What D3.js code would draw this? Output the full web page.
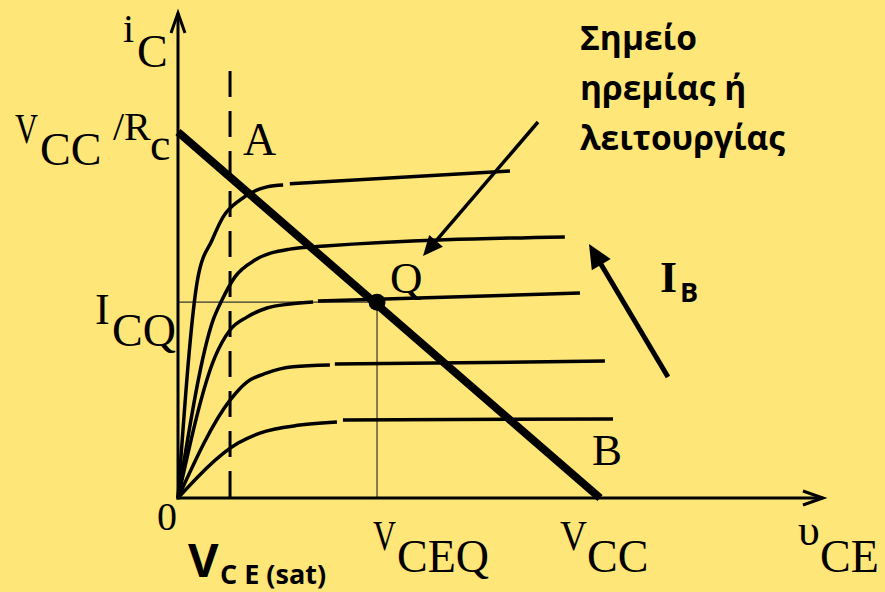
<!DOCTYPE html>
<html><head><meta charset="utf-8">
<script src="https://cdn.jsdelivr.net/npm/d3@7"></script>
<style>
html,body{margin:0;padding:0;background:#FFE678;}
svg{display:block;}
</style></head>
<body>
<script>
// ---- data (x: υCE in V, y: iC in mA) ----
const VCC = 12;
const ICmax = 12;           // VCC/Rc
const VCEsat = 1.48;
const Qpoint = [5.66, 6.42];
const xAxisMax = 18.34, yAxisMax = 15.9;

// output characteristic curves (null = small break in the drawn curve)
const curveIB5 = [[0,0],[0.57,7.25],[0.97,8.46],[1.28,9.21],[1.76,9.77],[2.53,10.20],[2.99,10.26],null,[3.18,10.30],[9.44,10.72]];
const curveIB4 = [[0,0],[1.00,5.84],[1.25,6.49],[1.62,7.25],[2.19,7.80],[3.18,8.16],[4.18,8.26],[11.00,8.56]];
const curveIB3 = [[0,0],[1.05,4.62],[1.48,5.51],[1.96,5.93],[2.53,6.23],[3.18,6.36],[3.84,6.43],null,[3.98,6.46],[11.43,6.72]];
const curveIB2 = [[0,0],[1.48,3.21],[1.96,3.80],[2.53,4.10],[3.27,4.30],[4.32,4.36],null,[4.46,4.39],[12.14,4.49]];
const curveIB1 = [[0,0],[1.71,1.80],[2.33,2.13],[3.47,2.39],[4.52,2.49],null,[4.69,2.56],[12.37,2.59]];
const curves = [curveIB5, curveIB4, curveIB3, curveIB2, curveIB1];
const loadLine = [[0, ICmax],[VCC, 0]];

const noteLines = ["Σημείο", "ηρεμίας ή", "λειτουργίας"];

// ---- drawing ----
const W = 885, H = 592;
const svg = d3.select("body").append("svg").attr("width", W).attr("height", H);
svg.append("rect").attr("width", W).attr("height", H).attr("fill", "#FFE678");

const x = d3.scaleLinear().domain([0, VCC]).range([178, 600]);
const y = d3.scaleLinear().domain([0, ICmax]).range([498, 132]);

const serif = "'Liberation Serif', 'Times New Roman', serif";
const sans = "'Open Sans', 'Noto Sans', sans-serif";

// thin Q guide lines
svg.append("line").attr("x1", x(0)).attr("x2", x(Qpoint[0])).attr("y1", y(Qpoint[1])).attr("y2", y(Qpoint[1]))
  .attr("stroke", "#333").attr("stroke-width", 1.2);
svg.append("line").attr("x1", x(Qpoint[0])).attr("x2", x(Qpoint[0])).attr("y1", y(Qpoint[1])).attr("y2", y(0))
  .attr("stroke", "#333").attr("stroke-width", 1.2);

// axes
svg.append("line").attr("x1", x(0)).attr("x2", x(0)).attr("y1", y(0)+1.5).attr("y2", y(yAxisMax))
  .attr("stroke", "#000").attr("stroke-width", 3);
svg.append("line").attr("x1", x(0)-1.5).attr("x2", x(xAxisMax)).attr("y1", y(0)).attr("y2", y(0))
  .attr("stroke", "#000").attr("stroke-width", 3);
const yt = [x(0), y(yAxisMax)], xt = [x(xAxisMax), y(0)];
svg.append("path").attr("d", `M${yt[0]-7},${yt[1]+20}L${yt[0]},${yt[1]}L${yt[0]+7},${yt[1]+20}`)
  .attr("fill", "none").attr("stroke", "#000").attr("stroke-width", 3);
svg.append("path").attr("d", `M${xt[0]-20},${xt[1]-7}L${xt[0]},${xt[1]}L${xt[0]-20},${xt[1]+7}`)
  .attr("fill", "none").attr("stroke", "#000").attr("stroke-width", 3);

// VCE(sat) dashed line
svg.append("line").attr("x1", x(VCEsat)).attr("x2", x(VCEsat)).attr("y1", y(14)).attr("y2", y(0))
  .attr("stroke", "#000").attr("stroke-width", 3).attr("stroke-dasharray", "26,14");

// curves
const line = d3.line().defined(d => d !== null).x(d => x(d[0])).y(d => y(d[1])).curve(d3.curveMonotoneX);
svg.selectAll("path.curve").data(curves).enter().append("path").attr("class", "curve")
  .attr("d", line).attr("fill", "none").attr("stroke", "#000").attr("stroke-width", 3.5).attr("stroke-linejoin", "round");

// load line
svg.append("path").attr("d", d3.line().x(d => x(d[0])).y(d => y(d[1]))(loadLine))
  .attr("fill", "none").attr("stroke", "#000").attr("stroke-width", 8);

// Q point
svg.append("circle").attr("cx", x(Qpoint[0])).attr("cy", y(Qpoint[1])).attr("r", 8.5).attr("fill", "#000");

// arrows
function arrow(x1, y1, x2, y2, w, hl, hw) {
  const a = Math.atan2(y2 - y1, x2 - x1);
  const bx = x2 - hl * Math.cos(a), by = y2 - hl * Math.sin(a);
  svg.append("line").attr("x1", x1).attr("y1", y1).attr("x2", bx + 2*Math.cos(a)).attr("y2", by + 2*Math.sin(a))
    .attr("stroke", "#000").attr("stroke-width", w);
  const px = -Math.sin(a) * hw, py = Math.cos(a) * hw;
  svg.append("path").attr("d", `M${x2},${y2}L${bx+px},${by+py}L${bx-px},${by-py}Z`).attr("fill", "#000");
}
arrow(538, 122, 423, 256, 3.5, 20, 9);
arrow(668, 377, 589, 244, 5, 24, 11);

// text helpers
function txt(s, tx, ty, size, family, weight) {
  return svg.append("text").attr("x", tx).attr("y", ty).attr("font-size", size)
    .attr("font-family", family).attr("font-weight", weight || "normal").attr("fill", "#000").text(s);
}
// main letter + subscript in one text element
function sub(main, s, tx, ty, size, sx, sdy, ssize, family, weight, mainFamily, mainLen) {
  const t = svg.append("text").attr("x", tx).attr("y", ty).attr("fill", "#000")
    .attr("font-family", family).attr("font-weight", weight || "normal").attr("xml:space", "preserve");
  const m = t.append("tspan").attr("font-size", size).attr("font-family", mainFamily || family).text(main);
  if (mainLen) m.attr("textLength", mainLen).attr("lengthAdjust", "spacingAndGlyphs");
  t.append("tspan").attr("x", sx).attr("dy", sdy).attr("font-size", ssize).text(s);
  return t;
}
// axis labels
sub("i", "C", 123, 42, 40, 137, 25, 46, serif);
sub("υ", "CE", 798, 545, 44, 820, 27, 46, serif);
// y tick labels
sub("V", "CC", 15, y(ICmax)+11, 42, 40, 22, 46, serif, null, null, 23);
sub("/R", "c", 113, y(ICmax)+8, 40, 150, 20, 46, serif);
sub("I", "CQ", 95, y(Qpoint[1])+22, 44, 112, 22, 46, serif);
// x tick labels
txt("0", x(0)-21, 530, 40, serif);
sub("V", "CEQ", x(Qpoint[0])-4, 550, 42, x(Qpoint[0])+20, 22, 46, serif, null, null, 23);
sub("V", "CC", x(VCC)-40, 550, 42, x(VCC)-13, 22, 46, serif, null, null, 27);
sub("V", "C E (sat)", 188, 577, 47, 220, 7, 27, sans, "bold");
// point labels
txt("A", 243, 155, 46, serif);
txt("Q", 390, 293, 45, serif);
txt("B", 592, 465, 45, serif);
sub("I", "B", 660, 292, 44, 680, 10, 27, sans, "bold", serif);
// note
noteLines.forEach((s, i) => txt(s, 580, 50 + i * 50, 33.5, sans, "bold"));
</script>
</body></html>
